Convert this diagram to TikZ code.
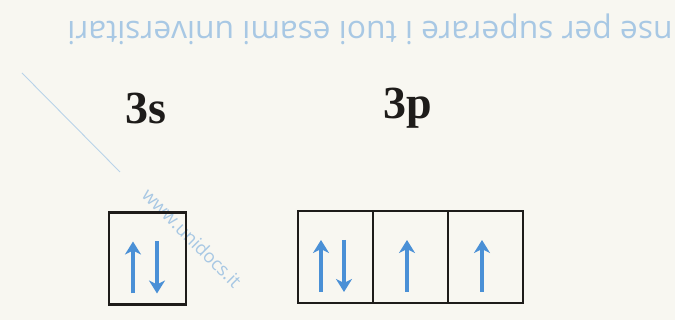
\documentclass[tikz,border=0pt]{standalone}
\usepackage{fontspec}
\setmainfont{Liberation Serif}
\newfontfamily\wmfont{Open Sans}
\usetikzlibrary{arrows.meta}
\definecolor{paper}{RGB}{248,247,241}
\definecolor{spin}{RGB}{74,144,214}
\definecolor{wmblue}{RGB}{168,200,228}
\definecolor{inkc}{RGB}{30,28,26}
\tikzset{
  orb/.style={draw=inkc, line width=2.4pt, minimum width=75pt, minimum height=92pt, inner sep=0pt},
  spinarrow/.style={draw=spin, line width=3.2pt, -{Stealth[length=13pt,width=16pt,inset=4pt]}},
  lbl/.style={text=inkc, font=\fontsize{46}{46}\selectfont\bfseries, inner sep=0pt},
  wm/.style={text=wmblue, inner sep=0pt}
}
\begin{document}
\begin{tikzpicture}[x=1pt,y=-1pt]
\useasboundingbox (0,0) rectangle (675,320);
\fill[paper] (0,0) rectangle (675,320);
% watermark elements
\node[wm] (wmtop) at (370,29) {\rotatebox{180}{\resizebox{605pt}{!}{\wmfont nse per superare i tuoi esami universitari}}};
\coordinate (wl1) at (22,73);
\coordinate (wl2) at (120,172);
\draw[wmblue!80, line width=0.9pt] (wl1) -- (wl2);
\node[wm, rotate=-45, font=\wmfont\fontsize{18.5}{18.5}\selectfont] (wmdiag) at (192,238) {www.unidocs.it};
% labels
\node[lbl] (l3s) at (146,108) {3s};
\node[lbl] (l3p) at (408,108) {3p};
% orbital boxes
\node[orb, minimum width=77pt] (s) at (147.5,258.5) {};
\node[orb] (p1) at (335.5,257) {};
\node[orb] (p2) at (410.5,257) {};
\node[orb] (p3) at (485.5,257) {};
% spins
\foreach \b/\dx in {s/-14.5, p1/-14.5, p2/-3.5, p3/-3.5}{
  \coordinate (\b u0) at ([xshift=\dx pt, yshift=-35pt]\b.center);
  \coordinate (\b u1) at ([xshift=\dx pt, yshift=17pt]\b.center);
  \draw[spinarrow] (\b u0) -- (\b u1);
}
\foreach \b/\dx in {s/9.5, p1/8.5}{
  \coordinate (\b d0) at ([xshift=\dx pt, yshift=17pt]\b.center);
  \coordinate (\b d1) at ([xshift=\dx pt, yshift=-35pt]\b.center);
  \draw[spinarrow] (\b d0) -- (\b d1);
}
\end{tikzpicture}
\end{document}
